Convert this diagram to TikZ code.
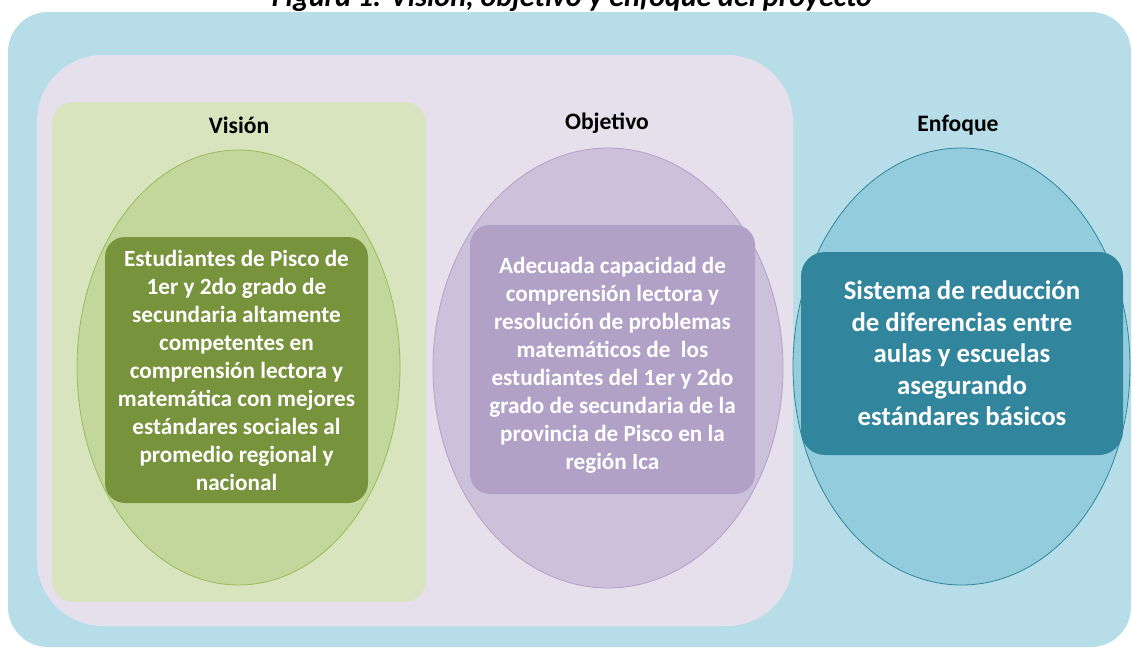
\documentclass[tikz,border=0pt]{standalone}
\usepackage{fontspec}
\setmainfont{Carlito}
\usepackage{tikz}
\usetikzlibrary{shapes,positioning}
\definecolor{outerblue}{HTML}{B7DEE8}
\definecolor{lavender}{HTML}{E5E0EC}
\definecolor{greenpanel}{HTML}{D7E4BD}
\definecolor{greenbubble}{HTML}{C3D69B}
\definecolor{greenline}{HTML}{9BBB59}
\definecolor{greenbox}{HTML}{77933C}
\definecolor{purplebubble}{HTML}{CCC1DA}
\definecolor{purpleline}{HTML}{B3A2C7}
\definecolor{purplebox}{HTML}{B2A1C7}
\definecolor{bluebubble}{HTML}{93CDDD}
\definecolor{blueline}{HTML}{31859C}
\definecolor{bluebox}{HTML}{31859C}
\tikzstyle{caption} = [anchor=base, inner sep=0pt, font=\bfseries\itshape\fontsize{15}{17}\selectfont]
\tikzstyle{heading} = [inner sep=0pt, font=\bfseries\fontsize{11.8}{13}\selectfont]
\tikzstyle{bubble} = [ellipse, line width=0.4pt, inner sep=0pt]
\tikzstyle{textbox} = [rectangle, rounded corners=10pt, inner sep=0pt, text=white, align=center, font=\bfseries\fontsize{11.6}{14}\selectfont]
\tikzstyle{bigbox} = [textbox, rounded corners=12pt, font=\bfseries\fontsize{13.4}{15.75}\selectfont]

\begin{document}
\begin{tikzpicture}[x=0.5pt,y=-0.5pt]
		\useasboundingbox (0,0) rectangle (1132,648);
		\node [caption] (title) at (572,6) {Figura 1. Visión, objetivo y enfoque del proyecto};
		
		% fondos
		\fill [outerblue, rounded corners=20pt] (8,12) rectangle (1131,647);
		\fill [lavender, rounded corners=33pt] (37,55) rectangle (793,626);
		\fill [greenpanel, rounded corners=11pt] (52,102) rectangle (426,602);
		
		% vision
		\node [bubble, fill=greenbubble, draw=greenline, minimum width=161.5pt, minimum height=217.5pt] (vision) at (238.5,367.5) {};
		\node [heading] (visionlabel) at (239,125) {Visión};
		\node [textbox, fill=greenbox, minimum width=131.5pt, minimum height=133pt] (visiontext) at (236.5,370) {Estudiantes de Pisco de\\1er y 2do grado de\\secundaria altamente\\competentes en\\comprensión lectora y\\matemática con mejores\\estándares sociales al\\promedio regional y\\nacional};
		
		% objetivo
		\node [bubble, fill=purplebubble, draw=purpleline, minimum width=175pt, minimum height=220pt] (objetivo) at (608,368) {};
		\node [heading] (objetivolabel) at (607,123) {Objetivo};
		\node [textbox, fill=purplebox, minimum width=142.5pt, minimum height=134.5pt] (objetivotext) at (612.5,359.5) {};
		\node [textbox] at (612.5,365) {Adecuada capacidad de\\comprensión lectora y\\resolución de problemas\\matemáticos de\ \ los\\estudiantes del 1er y 2do\\grado de secundaria de la\\provincia de Pisco en la\\región Ica};
		
		% enfoque
		\node [bubble, fill=bluebubble, draw=blueline, minimum width=168.5pt, minimum height=218.5pt] (enfoque) at (961.5,366.5) {};
		\node [heading] (enfoquelabel) at (958,125) {Enfoque};
		\node [bigbox, fill=bluebox, minimum width=161pt, minimum height=101.5pt] (enfoquetext) at (962,353.5) {Sistema de reducción\\de diferencias entre\\aulas y escuelas\\asegurando\\estándares básicos};
		
		\end{tikzpicture}
\end{document}
